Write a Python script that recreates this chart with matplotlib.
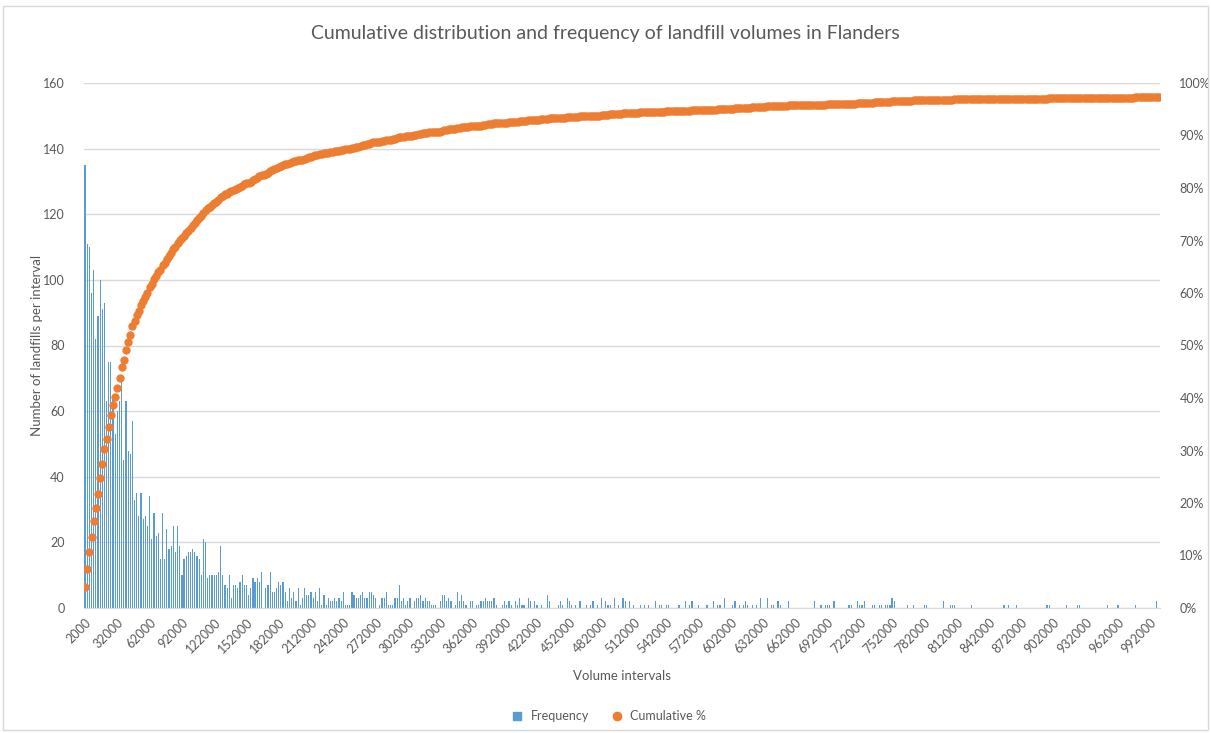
import numpy as np
import matplotlib.pyplot as plt
from matplotlib.lines import Line2D
from matplotlib.patches import Rectangle

plt.rcParams['font.family'] = ['Lato', 'DejaVu Sans']

# number of landfills per 2000 m3 volume interval, 2000 ... 300000
freq_head = [
    135, 111, 110, 96, 103, 82, 89, 100, 91, 93, 63, 75, 75, 64, 53, 60, 63, 69, 45, 63, 48, 47, 57, 33, 35,
    28, 35, 27, 28, 25, 34, 21, 29, 22, 23, 15, 29, 15, 24, 18, 19, 25, 17, 25, 19, 10, 15, 16, 17, 17,
    18, 17, 16, 15, 10, 21, 20, 9, 10, 10, 10, 10, 11, 19, 10, 7, 6, 10, 3, 7, 7, 6, 8, 10, 7,
    7, 4, 6, 9, 8, 9, 8, 11, 0, 6, 7, 11, 5, 5, 6, 8, 7, 8, 5, 2, 6, 3, 5, 2, 6,
    1, 3, 6, 4, 4, 5, 3, 5, 2, 6, 1, 4, 1, 3, 2, 2, 3, 2, 3, 2, 5, 1, 1, 1, 5,
    4, 3, 3, 4, 5, 3, 3, 5, 5, 4, 3, 0, 1, 3, 3, 5, 1, 1, 1, 3, 3, 7, 2, 3, 1,
]
# 302000 ... 1000000
freq_tail = [
    2, 3, 0, 2, 3, 3, 4, 2, 3, 2, 2, 1, 1, 1, 0, 2, 4, 4, 2, 3, 2, 0, 1, 5, 2,
    4, 2, 1, 0, 2, 2, 0, 1, 1, 2, 2, 3, 2, 2, 2, 3, 1, 0, 0, 1, 2, 1, 2, 1, 0,
    2, 1, 3, 1, 1, 0, 3, 2, 0, 2, 1, 0, 1, 0, 0, 4, 2, 0, 0, 0, 1, 2, 1, 0, 3,
    2, 1, 0, 1, 0, 2, 0, 0, 1, 0, 1, 2, 0, 1, 0, 3, 0, 2, 1, 1, 0, 3, 0, 1, 0,
    3, 2, 0, 2, 0, 1, 0, 0, 1, 0, 1, 0, 1, 0, 0, 2, 0, 1, 1, 0, 1, 1, 0, 0, 0,
    0, 1, 0, 0, 2, 0, 1, 2, 0, 0, 1, 0, 0, 0, 1, 0, 0, 2, 0, 1, 1, 0, 3, 0, 0,
    0, 1, 2, 0, 1, 0, 1, 2, 1, 0, 1, 0, 1, 0, 3, 0, 0, 3, 0, 1, 1, 0, 2, 1, 0,
    0, 0, 2, 0, 0, 0, 0, 0, 0, 0, 0, 0, 0, 0, 2, 0, 0, 1, 0, 1, 1, 1, 0, 2, 0,
    0, 0, 0, 0, 0, 1, 1, 0, 0, 2, 1, 1, 2, 0, 0, 0, 1, 1, 0, 1, 1, 0, 1, 1, 1,
    3, 2, 0, 0, 0, 0, 0, 1, 0, 0, 1, 0, 0, 0, 0, 1, 1, 0, 0, 0, 0, 0, 0, 0, 2,
    0, 0, 1, 1, 1, 0, 0, 0, 0, 0, 0, 0, 1, 0, 0, 0, 0, 0, 0, 0, 0, 0, 0, 0, 0,
    0, 0, 1, 0, 1, 0, 0, 0, 1, 0, 0, 0, 0, 0, 0, 0, 0, 0, 0, 0, 0, 0, 1, 1, 0,
    0, 0, 0, 0, 0, 0, 1, 0, 0, 0, 0, 1, 1, 0, 0, 0, 0, 0, 0, 0, 0, 0, 0, 0, 0,
    1, 0, 0, 0, 0, 1, 0, 0, 0, 0, 0, 0, 0, 1, 0, 0, 0, 0, 0, 0, 0, 0, 0, 2, 0,
]
# landfills bigger than 1000000 ("More" bin)
above_max = 90

tick_labels = ['2000', '32000', '62000', '92000', '122000', '152000', '182000',
               '212000', '242000', '272000', '302000', '332000', '362000',
               '392000', '422000', '452000', '482000', '512000', '542000',
               '572000', '602000', '632000', '662000', '692000', '722000',
               '752000', '782000', '812000', '842000', '872000', '902000',
               '932000', '962000', '992000']

frequency = np.array(freq_head + freq_tail)
total = frequency.sum() + above_max
cumulative = np.cumsum(frequency) / total * 100

BLUE = '#5B9BD5'
ORANGE = '#ED7D31'
TEXT = '#595959'
GRID = '#D9D9D9'

x = np.arange(len(frequency))

fig = plt.figure(figsize=(12.11, 7.33), dpi=100)
ax = fig.add_axes([84 / 1211, 1 - 608 / 733, (1160 - 84) / 1211, (608 - 83) / 733])
ax2 = ax.twinx()

ax.bar(x, frequency, width=0.55, color=BLUE, linewidth=0, zorder=2)
ax2.plot(x, cumulative, 'o', color=ORANGE, markersize=6, markeredgewidth=0,
         linestyle='none', zorder=3)

ax.set_xlim(-0.5, len(frequency) - 0.5)
ax.set_ylim(0, 160)
ax.set_yticks(np.arange(0, 161, 20))
ax2.set_ylim(0, 100)
ax2.set_yticks(np.arange(0, 101, 10))
ax2.set_yticklabels([f'{v}%' for v in range(0, 101, 10)])

ax.set_xticks(np.arange(0, len(frequency), 15))
ax.set_xticklabels(tick_labels, rotation=45, ha='right', rotation_mode='anchor')

ax.grid(axis='y', color=GRID, linewidth=1, zorder=0)
ax.set_axisbelow(True)
for a in (ax, ax2):
    for side in ('top', 'left', 'right'):
        a.spines[side].set_visible(False)
    a.spines['bottom'].set_color(GRID)
    a.tick_params(length=0, colors=TEXT, labelsize=9)
ax.tick_params(axis='y', pad=14)
ax.tick_params(axis='x', pad=6)
ax2.tick_params(axis='y', pad=14)

fig.text(0.5, 1 - 33 / 733, 'Cumulative distribution and frequency of landfill volumes in Flanders',
         ha='center', va='center', fontsize=14, color=TEXT)
fig.text(37 / 1211, 1 - 345 / 733, 'Number of landfills per interval', rotation=90,
         ha='center', va='center', fontsize=9.5, color=TEXT)
fig.text(622 / 1211, 1 - 676 / 733, 'Volume intervals',
         ha='center', va='center', fontsize=9.5, color=TEXT)

handles = [Line2D([], [], marker='s', color=BLUE, linestyle='none', markersize=6),
           Line2D([], [], marker='o', color=ORANGE, linestyle='none', markersize=6)]
fig.legend(handles, ['Frequency', 'Cumulative %'], loc='center', ncol=2,
           bbox_to_anchor=(0.5, 1 - 716 / 733), frameon=False, fontsize=9,
           labelcolor=TEXT, handletextpad=0.1, columnspacing=1.2)

fig.patches.append(Rectangle((3 / 1211, 3 / 733), 1 - 6 / 1211, 1 - 9 / 733,
                             transform=fig.transFigure, fill=False,
                             edgecolor=GRID, linewidth=1))

fig.savefig('out.png', dpi=100)
